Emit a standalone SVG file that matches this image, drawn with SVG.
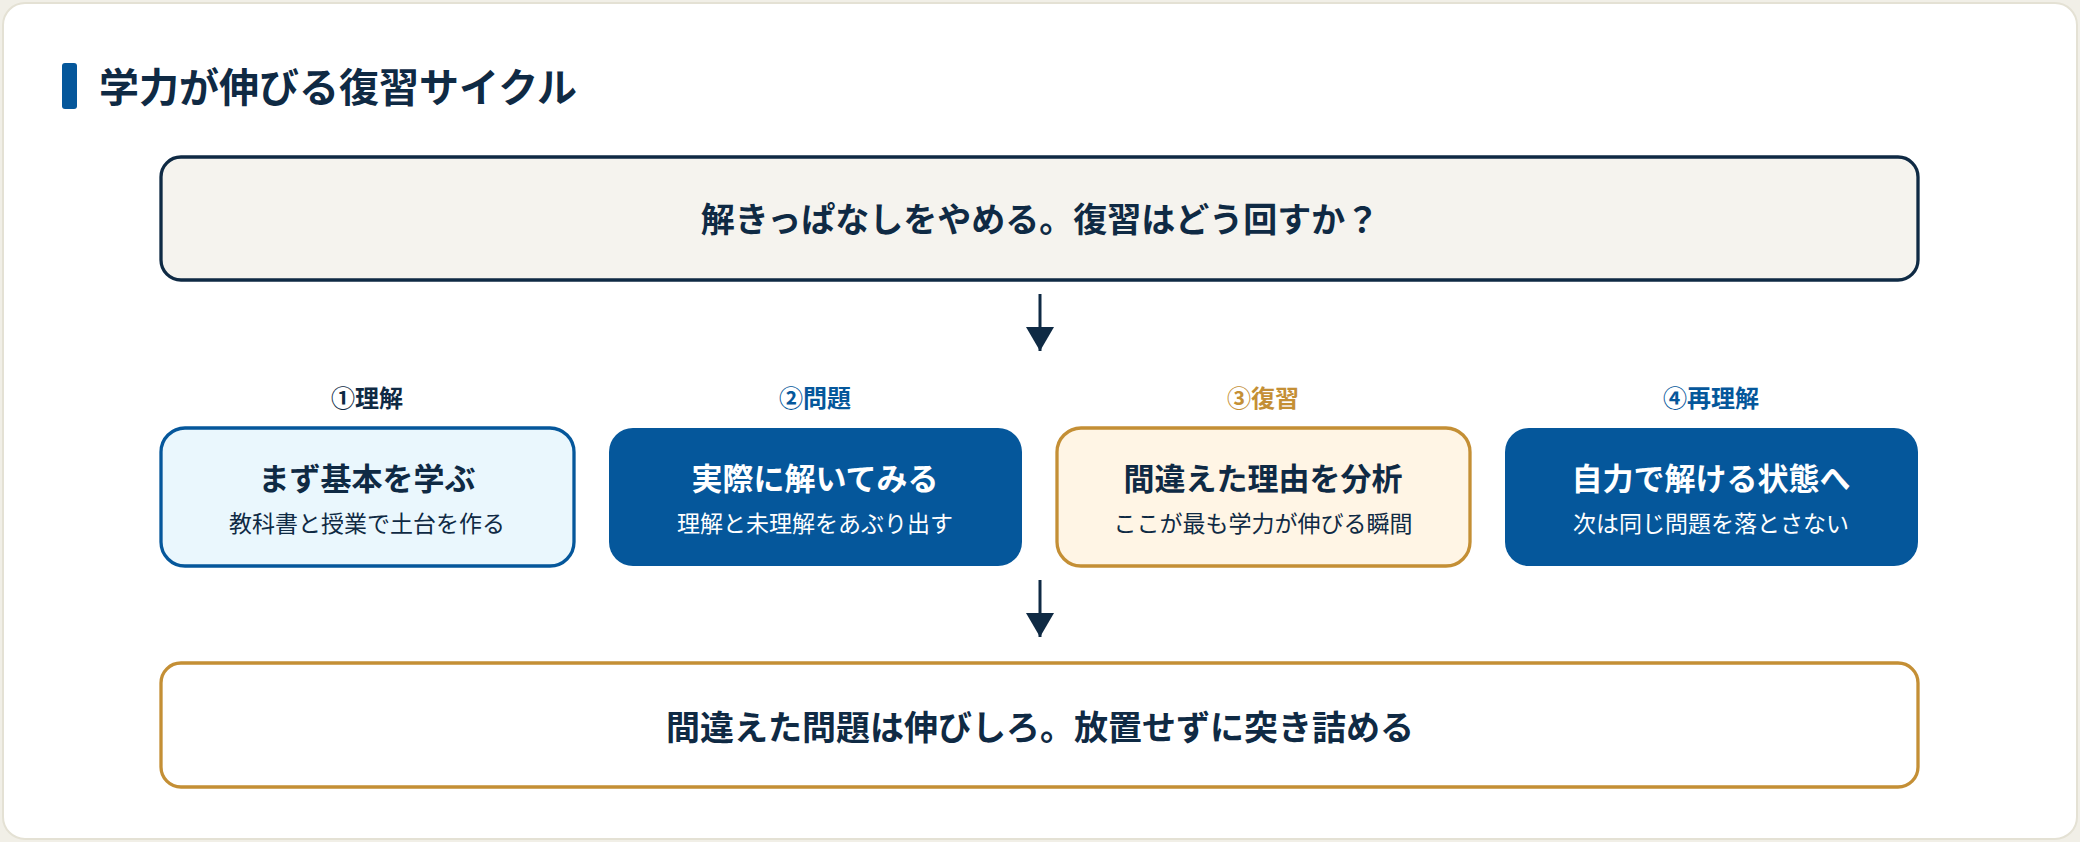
<svg xmlns="http://www.w3.org/2000/svg" width="2080" height="842" viewBox="0 0 2080 842">
<defs>
<style>
text{font-family:"Noto Sans CJK JP","Noto Sans",sans-serif;text-anchor:middle}
.b{font-weight:700}
.navy{fill:#0F2A44}.blue{fill:#05579B}.gold{fill:#C48F35}.white{fill:#fff}
.conn{stroke:#0F2A44;stroke-width:3;fill:none}
</style>
<marker id="ah" viewBox="0 0 10 10" refX="9" refY="5" markerWidth="10" markerHeight="10" markerUnits="userSpaceOnUse" orient="auto"><path d="M0,0L10,5L0,10z" fill="#0F2A44"/></marker>
<marker id="ah2" viewBox="0 0 24 28" refX="24" refY="14" markerWidth="24" markerHeight="28" markerUnits="userSpaceOnUse" orient="auto"><path d="M0,0L24,14L0,28z" fill="#0F2A44"/></marker>
</defs>
<rect width="2080" height="842" fill="#F1EFE7"/>
<rect x="3" y="3" width="2074" height="836" rx="22" fill="#fff" stroke="#E4E1D4" stroke-width="2"/>
<g id="title">
<rect x="62" y="63" width="15" height="46" rx="3" fill="#05579B"/>
<text x="99" y="102" class="b navy" font-size="40" style="text-anchor:start">学力が伸びる復習サイクル</text>
</g>
<g id="top">
<rect x="161" y="157" width="1757" height="123" rx="20" fill="#F5F3EE" stroke="#0F2A44" stroke-width="3.3"/>
<text x="1040" y="232" class="b navy" font-size="34">解きっぱなしをやめる。復習はどう回すか？</text>
</g>
<g id="n1">
<text x="367" y="407" class="b navy" font-size="24">①理解</text>
<rect x="161" y="428" width="413" height="138" rx="24" fill="#EAF7FD" stroke="#05579B" stroke-width="3.3"/>
<text x="367" y="490" class="b navy" font-size="31">まず基本を学ぶ</text>
<text x="367" y="532" class="navy" font-size="23">教科書と授業で土台を作る</text>
</g>
<g id="n2">
<text x="815" y="407" class="b blue" font-size="24">②問題</text>
<rect x="609" y="428" width="413" height="138" rx="24" fill="#05579B"/>
<text x="815" y="490" class="b white" font-size="31">実際に解いてみる</text>
<text x="815" y="532" class="white" font-size="23">理解と未理解をあぶり出す</text>
</g>
<g id="n3">
<text x="1263" y="407" class="b gold" font-size="24">③復習</text>
<rect x="1057" y="428" width="413" height="138" rx="24" fill="#FFF5E5" stroke="#C48F35" stroke-width="3.3"/>
<text x="1263" y="490" class="b navy" font-size="31">間違えた理由を分析</text>
<text x="1263" y="532" class="navy" font-size="23">ここが最も学力が伸びる瞬間</text>
</g>
<g id="n4">
<text x="1711" y="407" class="b blue" font-size="24">④再理解</text>
<rect x="1505" y="428" width="413" height="138" rx="24" fill="#05579B"/>
<text x="1711" y="490" class="b white" font-size="31">自力で解ける状態へ</text>
<text x="1711" y="532" class="white" font-size="23">次は同じ問題を落とさない</text>
</g>
<g id="bottom">
<rect x="161" y="663" width="1757" height="124" rx="20" fill="#fff" stroke="#C48F35" stroke-width="3.3"/>
<text x="1040" y="740" class="b navy" font-size="34">間違えた問題は伸びしろ。放置せずに突き詰める</text>
</g>
<g id="connectors">
<path class="conn" d="M1040,294V351" marker-end="url(#ah2)"/>
<path class="conn" d="M1040,580V637" marker-end="url(#ah2)"/>
</g>
</svg>
